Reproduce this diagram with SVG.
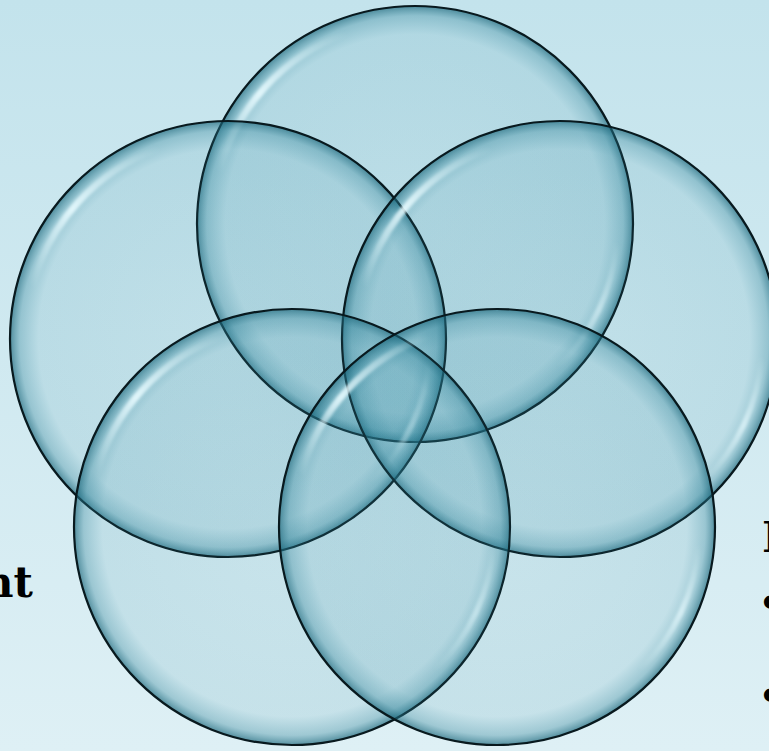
<svg xmlns="http://www.w3.org/2000/svg" xmlns:xlink="http://www.w3.org/1999/xlink" width="769" height="751" viewBox="0 0 769 751">
  <defs>
    <linearGradient id="bg" x1="0" y1="0" x2="0" y2="1">
      <stop offset="0" stop-color="#c3e3ec"/>
      <stop offset="1" stop-color="#def0f5"/>
    </linearGradient>
    <radialGradient id="body" cx="0.5" cy="0.5" r="0.5">
      <stop offset="0" stop-color="#2f879e" stop-opacity="0.09"/>
      <stop offset="0.87" stop-color="#2f879e" stop-opacity="0.13"/>
      <stop offset="0.955" stop-color="#2a7f95" stop-opacity="0.35"/>
      <stop offset="1" stop-color="#1a6579" stop-opacity="0.70"/>
    </radialGradient>
    <linearGradient id="hl1" gradientUnits="userSpaceOnUse" x1="-196" y1="-52" x2="-69" y2="-191">
      <stop offset="0" stop-color="#e8fbff" stop-opacity="0"/>
      <stop offset="0.45" stop-color="#e8fbff" stop-opacity="0.9"/>
      <stop offset="1" stop-color="#e8fbff" stop-opacity="0"/>
    </linearGradient>
    <linearGradient id="hl2" gradientUnits="userSpaceOnUse" x1="202" y1="18" x2="143" y2="143">
      <stop offset="0" stop-color="#e8fbff" stop-opacity="0"/>
      <stop offset="0.5" stop-color="#e8fbff" stop-opacity="0.7"/>
      <stop offset="1" stop-color="#e8fbff" stop-opacity="0"/>
    </linearGradient>
    <filter id="soft" x="-20%" y="-20%" width="140%" height="140%">
      <feGaussianBlur stdDeviation="1.8"/>
    </filter>
    <g id="bubble">
      <circle r="218" fill="url(#body)"/>
      <path d="M -196.1 -52.5 A 203 203 0 0 1 -69.4 -190.8" fill="none" stroke="url(#hl1)" stroke-width="7" stroke-linecap="round" filter="url(#soft)"/>
      <path d="M 202.2 17.7 A 203 203 0 0 1 143.5 143.5" fill="none" stroke="url(#hl2)" stroke-width="6" stroke-linecap="round" filter="url(#soft)"/>
      <circle r="218" fill="none" stroke="#08191e" stroke-width="2.2"/>
    </g>
    <style>
      .lbl { font-family: "DejaVu Serif", "Liberation Serif", serif; font-weight: bold; font-size: 42px; fill: #000000; }
      .bul { font-family: "Liberation Serif", "Times New Roman", serif; font-weight: bold; font-size: 48px; fill: #000000; }
    </style>
  </defs>
  <rect x="0" y="0" width="769" height="751" fill="url(#bg)"/>
  <g id="circle-top" transform="translate(415,224)"><use xlink:href="#bubble"/></g>
  <g id="circle-upper-left" transform="translate(228,339)"><use xlink:href="#bubble"/></g>
  <g id="circle-upper-right" transform="translate(560,339)"><use xlink:href="#bubble"/></g>
  <g id="circle-lower-left" transform="translate(292,527)"><use xlink:href="#bubble"/></g>
  <g id="circle-lower-right" transform="translate(497,527)"><use xlink:href="#bubble"/></g>
  <g id="connectors"></g>
  <g id="text-left"><text class="lbl" x="33" y="597" text-anchor="end">nt</text></g>
  <g id="text-right">
    <text class="lbl" x="762" y="552">I</text>
    <text class="bul" x="762" y="618">•</text>
    <text class="bul" x="762" y="711">•</text>
  </g>
</svg>
